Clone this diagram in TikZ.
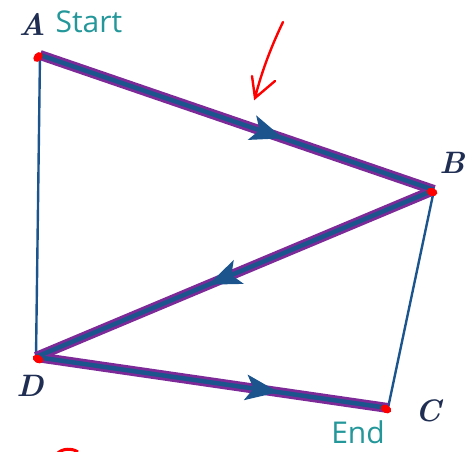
\documentclass[tikz,border=0pt]{standalone}
\usepackage{fontspec}
\setsansfont{Open Sans}
\usetikzlibrary{arrows.meta, decorations.markings, shapes.geometric}
\definecolor{pathblue}{HTML}{1C548E}
\definecolor{pathpurple}{HTML}{7D2A98}
\definecolor{labteal}{HTML}{23979A}
\definecolor{letterblue}{HTML}{1F2E52}

\begin{document}
\begin{tikzpicture}[x=1pt, y=-1pt,
    vertex/.style={circle, inner sep=0pt, minimum size=2pt},
    dotmark/.style={fill=red, draw=none, ellipse, minimum width=11pt, minimum height=8pt, inner sep=0pt},
    edge/.style={draw=pathblue, line width=2.4pt},
    route/.style={draw=pathpurple, line width=10pt},
    routecore/.style={draw=pathblue, line width=4.5pt},
    midarrow/.style={postaction={decorate}, decoration={markings,
        mark=at position #1 with {\fill[pathblue] (3pt,0pt) -- (-30pt,13pt) -- (-22pt,0pt) -- (-30pt,-13pt) -- cycle;}}},
    letter/.style={font=\fontsize{31}{34}\selectfont\itshape\bfseries, text=letterblue},
    tag/.style={font=\fontsize{30}{34}\selectfont\sffamily, text=labteal},
]
    \useasboundingbox (0,0) rectangle (472,452);

    % corners of the route
    \node[vertex] (A) at (40,55) {};
    \node[vertex] (B) at (434,190) {};
    \node[vertex] (C) at (388,408) {};
    \node[vertex] (D) at (36,357) {};

    % thin sides
    \draw[edge] (A.center) -- (D.center);
    \draw[edge] (B.center) -- (C.center);

    % the path A -> B -> D -> C
    \draw[route] (A.center) -- (B.center);
    \draw[route] (B.center) -- (D.center);
    \draw[route] (D.center) -- (C.center);
    \draw[routecore, midarrow=0.61] (A.center) -- (B.center);
    \draw[routecore, midarrow=0.56] (B.center) -- (D.center);
    \draw[routecore, midarrow=0.68] (D.center) -- (C.center);

    % red marks
    \node[dotmark, rotate=50] (dA) at (38,57) {};
    \node[dotmark, rotate=-15] (dB) at (432,192) {};
    \node[dotmark, rotate=-30] (dC) at (386,409) {};
    \node[dotmark, rotate=-30] (dD) at (38,359) {};
    \draw[red, line width=2.4pt, line cap=round]
        (283,22) .. controls (272,45) and (262,70) .. (255,98)
        (252,76) -- (255,98) -- (275,81);
    \draw[red, line width=3pt] (57,454) .. controls (62,448) and (72,448) .. (78,452);

    % labels
    \node[letter] (lA) at (32,24) {A};
    \node[tag, anchor=west] (start) at (52,22) {Start};
    \node[letter] (lB) at (452,163) {B};
    \node[letter] (lC) at (428,411) {C};
    \node[letter] (lD) at (30,386) {D};
    \node[tag] (end) at (358,432) {End};
\end{tikzpicture}
\end{document}
